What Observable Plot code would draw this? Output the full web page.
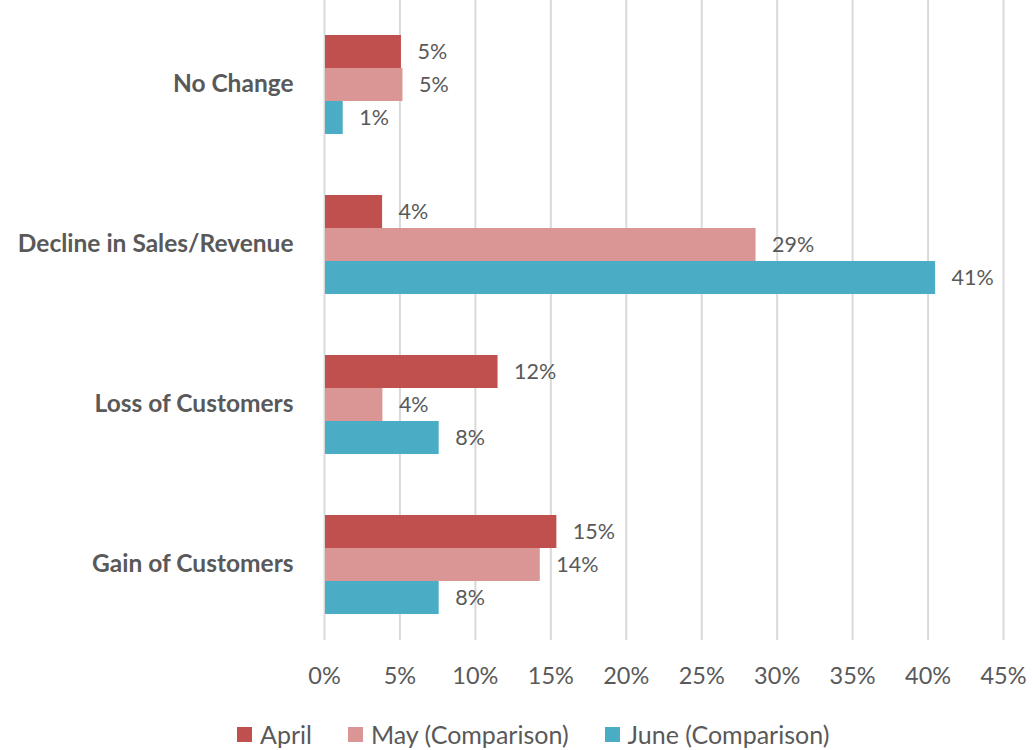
<!DOCTYPE html>
<html>
<head>
<meta charset="utf-8">
<script src="https://cdn.jsdelivr.net/npm/d3@7"></script>
<script src="https://cdn.jsdelivr.net/npm/@observablehq/plot@0.6"></script>
<style>
  html, body { margin: 0; padding: 0; background: #fff; }
  body { width: 1033px; height: 750px; overflow: hidden; font-family: Lato, "Open Sans", sans-serif; }
  #legend { display: flex; align-items: center; height: 30px; margin-top: 19px; padding-left: 237px; font-size: 25px; color: #595959; }
  .item { display: flex; align-items: center; margin-right: 36px; }
  .sw { width: 15px; height: 15px; margin-right: 8px; }
</style>
</head>
<body>
<div id="chart"></div>
<div id="legend"></div>
<script>
const categories = ["No Change", "Decline in Sales/Revenue", "Loss of Customers", "Gain of Customers"];
const seriesNames = ["April", "May (Comparison)", "June (Comparison)"];
const seriesColors = ["#C0504D", "#DA9694", "#4BACC6"];
const aprilValues = [5.1, 3.85, 11.5, 15.4];
const mayValues = [5.2, 28.6, 3.87, 14.3];
const juneValues = [1.24, 40.5, 7.6, 7.6];
const xTicks = [0, 5, 10, 15, 20, 25, 30, 35, 40, 45];

const seriesValues = [aprilValues, mayValues, juneValues];
const data = [];
categories.forEach((c, i) => {
  seriesNames.forEach((s, j) => {
    data.push({category: c, series: s, value: seriesValues[j][i]});
  });
});

const chart = Plot.plot({
  width: 1033,
  height: 700,
  marginLeft: 324,
  marginRight: 30,
  marginTop: 0,
  marginBottom: 60,
  style: {fontFamily: "Lato, 'Open Sans', sans-serif", background: "#fff"},
  x: {domain: [0, 45], axis: null},
  y: {domain: seriesNames, paddingInner: 0, paddingOuter: 0.924, align: 0.566, axis: null},
  fy: {domain: categories, padding: 0, axis: null},
  color: {domain: seriesNames, range: seriesColors},
  marks: [
    Plot.gridX(xTicks, {stroke: "#d9d9d9", strokeOpacity: 1, strokeWidth: 2}),
    Plot.barX(data, {x1: 0, x2: "value", y: "series", fy: "category", fill: "series", insetLeft: 1}),
    Plot.text(data, {x: "value", y: "series", fy: "category", text: d => Math.round(d.value) + "%", dx: 16, textAnchor: "start", fontSize: 21.5, fill: "#595959"}),
    Plot.axisFy({anchor: "left", tickSize: 0, tickPadding: 31, fontSize: 24.5, fontWeight: "bold", fill: "#595959", dy: 4, label: null}),
    Plot.axisX(xTicks, {anchor: "bottom", tickSize: 0, tickPadding: 27, fontSize: 23.5, fill: "#595959", tickFormat: d => d + "%", label: null})
  ]
});
document.getElementById("chart").appendChild(chart);

const legend = document.getElementById("legend");
seriesNames.forEach((s, i) => {
  const item = document.createElement("div");
  item.className = "item";
  const sw = document.createElement("div");
  sw.className = "sw";
  sw.style.background = seriesColors[i];
  const t = document.createElement("span");
  t.textContent = s;
  item.appendChild(sw);
  item.appendChild(t);
  legend.appendChild(item);
});
</script>
</body>
</html>
